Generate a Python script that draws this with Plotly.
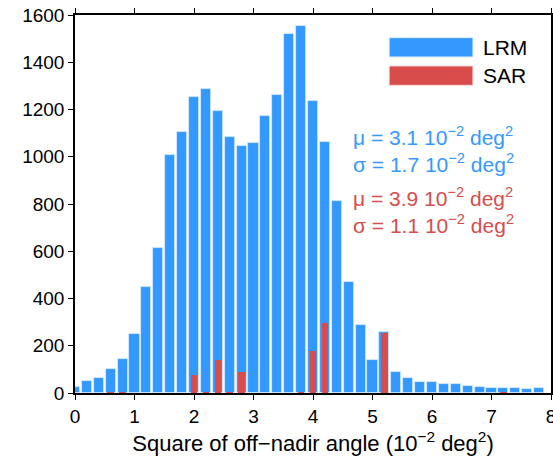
import plotly.graph_objects as go

bin_centers = [0.0, 0.2, 0.4, 0.6, 0.8, 1.0, 1.2, 1.4, 1.6, 1.8,
               2.0, 2.2, 2.4, 2.6, 2.8, 3.0, 3.2, 3.4, 3.6, 3.8,
               4.0, 4.2, 4.4, 4.6, 4.8, 5.0, 5.2, 5.4, 5.6, 5.8,
               6.0, 6.2, 6.4, 6.6, 6.8, 7.0, 7.2, 7.4, 7.6, 7.8]

lrm_counts = [24, 50, 65, 100, 143, 248, 447, 614, 1007, 1105,
              1252, 1287, 1195, 1082, 1044, 1060, 1171, 1260, 1518, 1553,
              1236, 1061, 813, 470, 287, 140, 257, 89, 62, 48,
              45, 37, 40, 31, 24, 21, 21, 21, 17, 21]

sar_counts = [0, 0, 0, 2, 2, 0, 0, 0, 0, 0,
              75, 2, 138, 2, 89, 0, 0, 0, 0, 2,
              176, 296, 0, 0, 0, 0, 254, 0, 0, 0,
              0, 0, 0, 0, 0, 0, 2, 0, 0, 0]

x_ticks = [0, 1, 2, 3, 4, 5, 6, 7, 8]
y_ticks = [0, 200, 400, 600, 800, 1000, 1200, 1400, 1600]

series_names = ["LRM", "SAR"]
lrm_stats = "μ = 3.1 10<sup>−2</sup> deg<sup>2</sup><br>σ = 1.7 10<sup>−2</sup> deg<sup>2</sup>"
sar_stats = "μ = 3.9 10<sup>−2</sup> deg<sup>2</sup><br>σ = 1.1 10<sup>−2</sup> deg<sup>2</sup>"
x_title = "Square of off−nadir angle (10<sup>−2</sup> deg<sup>2</sup>)"

BLUE = "#3399FF"
RED = "#D94C4C"
FONT = "Liberation Sans, Arial, Helvetica, sans-serif"

fig = go.Figure()
fig.add_trace(go.Bar(x=bin_centers, y=lrm_counts, name=series_names[0], width=0.17,
                     marker=dict(color=BLUE, line=dict(color="rgba(220,238,255,0.9)", width=0.8))))
fig.add_trace(go.Bar(x=bin_centers, y=sar_counts, name=series_names[1], width=0.11,
                     marker=dict(color=RED, line=dict(width=0))))

# legend drawn manually (wide colour bars)
shapes = [
    dict(type="rect", xref="paper", yref="paper", x0=0.660, x1=0.836, y0=0.889, y1=0.940,
         fillcolor=BLUE, line=dict(color="rgba(220,238,255,0.9)", width=1)),
    dict(type="rect", xref="paper", yref="paper", x0=0.660, x1=0.836, y0=0.814, y1=0.865,
         fillcolor=RED, line=dict(color="rgba(255,220,220,0.9)", width=1)),
]
annotations = [
    dict(text=series_names[0], xref="paper", yref="paper", x=0.852, y=0.915, xanchor="left",
         yanchor="middle", showarrow=False, font=dict(size=21, color="black", family=FONT)),
    dict(text=series_names[1], xref="paper", yref="paper", x=0.852, y=0.839, xanchor="left",
         yanchor="middle", showarrow=False, font=dict(size=21, color="black", family=FONT)),
    dict(text=lrm_stats, xref="paper", yref="paper", x=0.580, y=0.645, xanchor="left",
         yanchor="middle", align="left", showarrow=False, font=dict(size=21, color=BLUE, family=FONT)),
    dict(text=sar_stats, xref="paper", yref="paper", x=0.580, y=0.484, xanchor="left",
         yanchor="middle", align="left", showarrow=False, font=dict(size=21, color=RED, family=FONT)),
]

fig.update_layout(
    width=553, height=466,
    margin=dict(l=75, r=2, t=15, b=73),
    plot_bgcolor="white", paper_bgcolor="white",
    barmode="overlay", showlegend=False, bargap=0,
    font=dict(family=FONT, size=19, color="black"),
    shapes=shapes, annotations=annotations,
)
fig.update_xaxes(range=[0, 8], tickvals=x_ticks, ticktext=[str(v) for v in x_ticks],
                 showline=True, linecolor="black", linewidth=1.5, mirror="ticks",
                 ticks="outside", ticklen=5, tickwidth=1.2, tickcolor="black",
                 showgrid=False, zeroline=False, automargin=False, ticklabeloverflow="allow",
                 title=dict(text=x_title, font=dict(size=22), standoff=10))
fig.update_yaxes(range=[0, 1600], tickvals=y_ticks, ticktext=[str(v) for v in y_ticks],
                 showline=True, linecolor="black", linewidth=1.5, mirror="ticks",
                 ticks="outside", ticklen=5, tickwidth=1.2, tickcolor="black",
                 showgrid=False, zeroline=False, automargin=False, ticklabeloverflow="allow")

fig.write_html("out.html", config={"displayModeBar": False},
               post_script="document.body.style.margin='0';document.body.style.overflow='hidden';")
